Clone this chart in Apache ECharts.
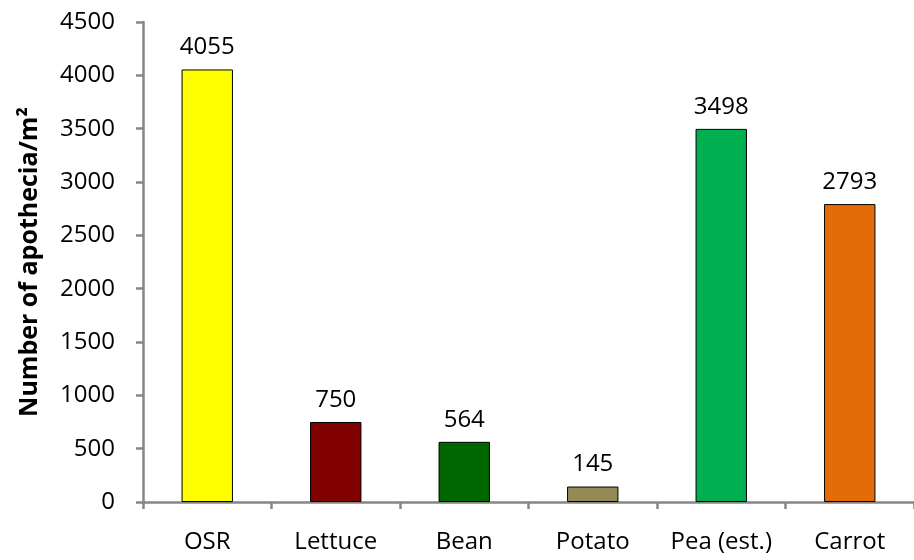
<!DOCTYPE html>
<html lang="en">
<head>
    <meta charset="UTF-8">
    <title>Apothecia</title>
    <script src="https://cdn.jsdelivr.net/npm/echarts@6.0.0/dist/echarts.min.js"></script>
</head>
<body style="margin:0">
    <div id="main" style="width: 914px;height:560px;"></div>
    <script type="text/javascript">
        // chart data
        const categories = ['OSR', 'Lettuce', 'Bean', 'Potato', 'Pea (est.)', 'Carrot'];
        const apothecia = [4055, 750, 564, 145, 3498, 2793];
        const barColors = ['#FFFF00', '#800000', '#006600', '#948A54', '#00B050', '#E36C09'];
        const yTicks = [0, 500, 1000, 1500, 2000, 2500, 3000, 3500, 4000, 4500];

        let myChart = echarts.init(document.getElementById('main'));
        const font = '"Open Sans", "DejaVu Sans", sans-serif';
        const axisGray = '#868686';

        let options = {
            animation: false,
            grid: { left: 143, right: -6, top: 22, bottom: 58 },
            xAxis: {
                type: 'category',
                data: categories,
                axisLine: { lineStyle: { color: axisGray, width: 2.5 } },
                axisTick: { show: true, interval: 0, length: 7, lineStyle: { color: axisGray, width: 2.5 } },
                axisLabel: { interval: 0, hideOverlap: false, color: '#000', fontSize: 24, fontFamily: font, margin: 28 }
            },
            yAxis: {
                type: 'value',
                min: yTicks[0],
                max: yTicks[yTicks.length - 1],
                interval: 500,
                name: 'Number of apothecia/m²',
                nameLocation: 'middle',
                nameGap: 101,
                nameTextStyle: { color: '#000', fontSize: 25, fontWeight: 'bold', fontFamily: font },
                splitLine: { show: false },
                axisLine: { show: true, lineStyle: { color: axisGray, width: 2.5 } },
                axisTick: { show: true, length: 7, lineStyle: { color: axisGray, width: 2.5 } },
                axisLabel: { color: '#000', fontSize: 24, fontFamily: font, margin: 28, formatter: v => String(v) }
            },
            series: [{
                type: 'bar',
                barWidth: '40%',
                data: apothecia.map((v, i) => ({
                    value: v,
                    itemStyle: { color: barColors[i], borderColor: '#000', borderWidth: 1 }
                })),
                label: {
                    show: true,
                    position: 'top',
                    distance: 10,
                    color: '#000',
                    fontSize: 24,
                    fontFamily: font
                }
            }]
        };

        myChart.setOption(options);
    </script>
</body>
</html>
